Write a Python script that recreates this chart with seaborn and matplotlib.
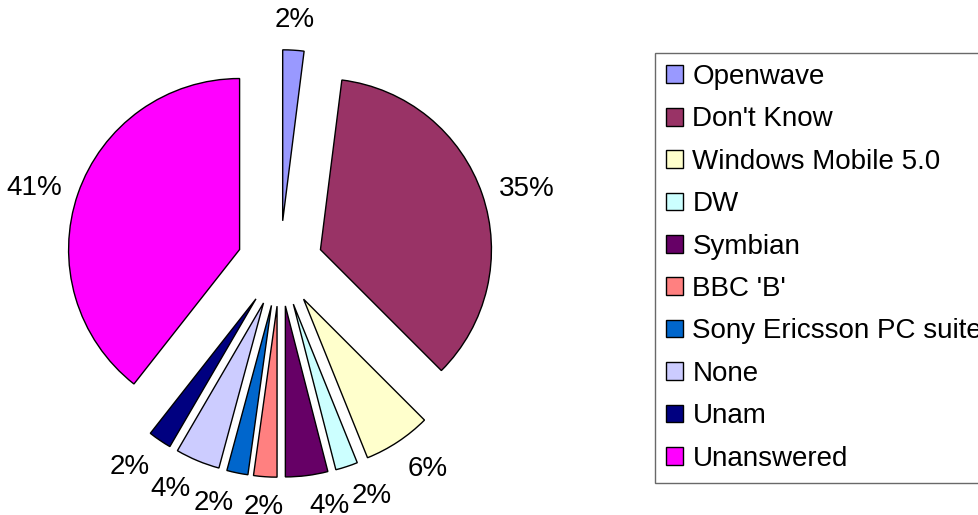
import math
import matplotlib
matplotlib.use("Agg")
import matplotlib.pyplot as plt
import seaborn as sns
from matplotlib.patches import Patch

categories = ["Openwave", "Don't Know", "Windows Mobile 5.0", "DW", "Symbian",
              "BBC 'B'", "Sony Ericsson PC suite", "None", "Unam", "Unanswered"]
values = [2.0, 35.5, 6.4, 2.1, 4.0, 2.2, 2.0, 4.2, 2.2, 39.4]
# data labels as printed on the chart
pct_labels = ["2%", "35%", "6%", "2%", "4%", "2%", "2%", "4%", "2%", "41%"]
colors = ["#9999FF", "#993366", "#FFFFCC", "#CCFFFF", "#660066",
          "#FF8080", "#0066CC", "#CCCCFF", "#000080", "#FF00FF"]

sns.set_style("white")
plt.rcParams['font.family'] = ['Liberation Sans', 'DejaVu Sans']
plt.rcParams['text.color'] = 'black'

W, H = 979, 515
fig = plt.figure(figsize=(W / 100, H / 100), dpi=100)

# pie: centre (280, 263.5) px, radius 171 px
R = 171.0
lim = 1.6
size = 2 * lim * R
cx, cy = 280, 263.5
ax = fig.add_axes([(cx - size / 2) / W, ((H - cy) - size / 2) / H, size / W, size / H])

explode = [0.25] * len(values)
wedges, texts = ax.pie(
    values, colors=colors, explode=explode, startangle=90, counterclock=False,
    labels=pct_labels, labeldistance=1.1,
    wedgeprops=dict(edgecolor='black', linewidth=1.0),
    textprops=dict(fontsize=20, color='black'))

# Excel-like label alignment: anchor the label edge nearest the pie
for w, t in zip(wedges, texts):
    th = math.radians((w.theta1 + w.theta2) / 2)
    c, s = math.cos(th), math.sin(th)
    t.set_ha('center' if abs(c) < 0.1 else ('left' if c > 0 else 'right'))
    t.set_va('bottom' if s > 0.5 else ('top' if s < -0.5 else 'center'))

ax.set_xlim(-lim, lim)
ax.set_ylim(-lim, lim)
ax.set_aspect('auto')
ax.axis('off')

handles = [Patch(facecolor=c, edgecolor='black', linewidth=1.0) for c in colors]
leg = fig.legend(handles, categories, loc='upper left',
                 bbox_to_anchor=(655 / W, 1 - 53 / H), borderaxespad=0,
                 fontsize=20, frameon=True, fancybox=False, shadow=False,
                 borderpad=0.4, labelspacing=0.59, handlelength=0.6,
                 handleheight=0.6, handletextpad=0.35, labelcolor='black')
leg.get_frame().set_edgecolor('#444444')
leg.get_frame().set_linewidth(1.0)

fig.savefig("out.png", dpi=100)
